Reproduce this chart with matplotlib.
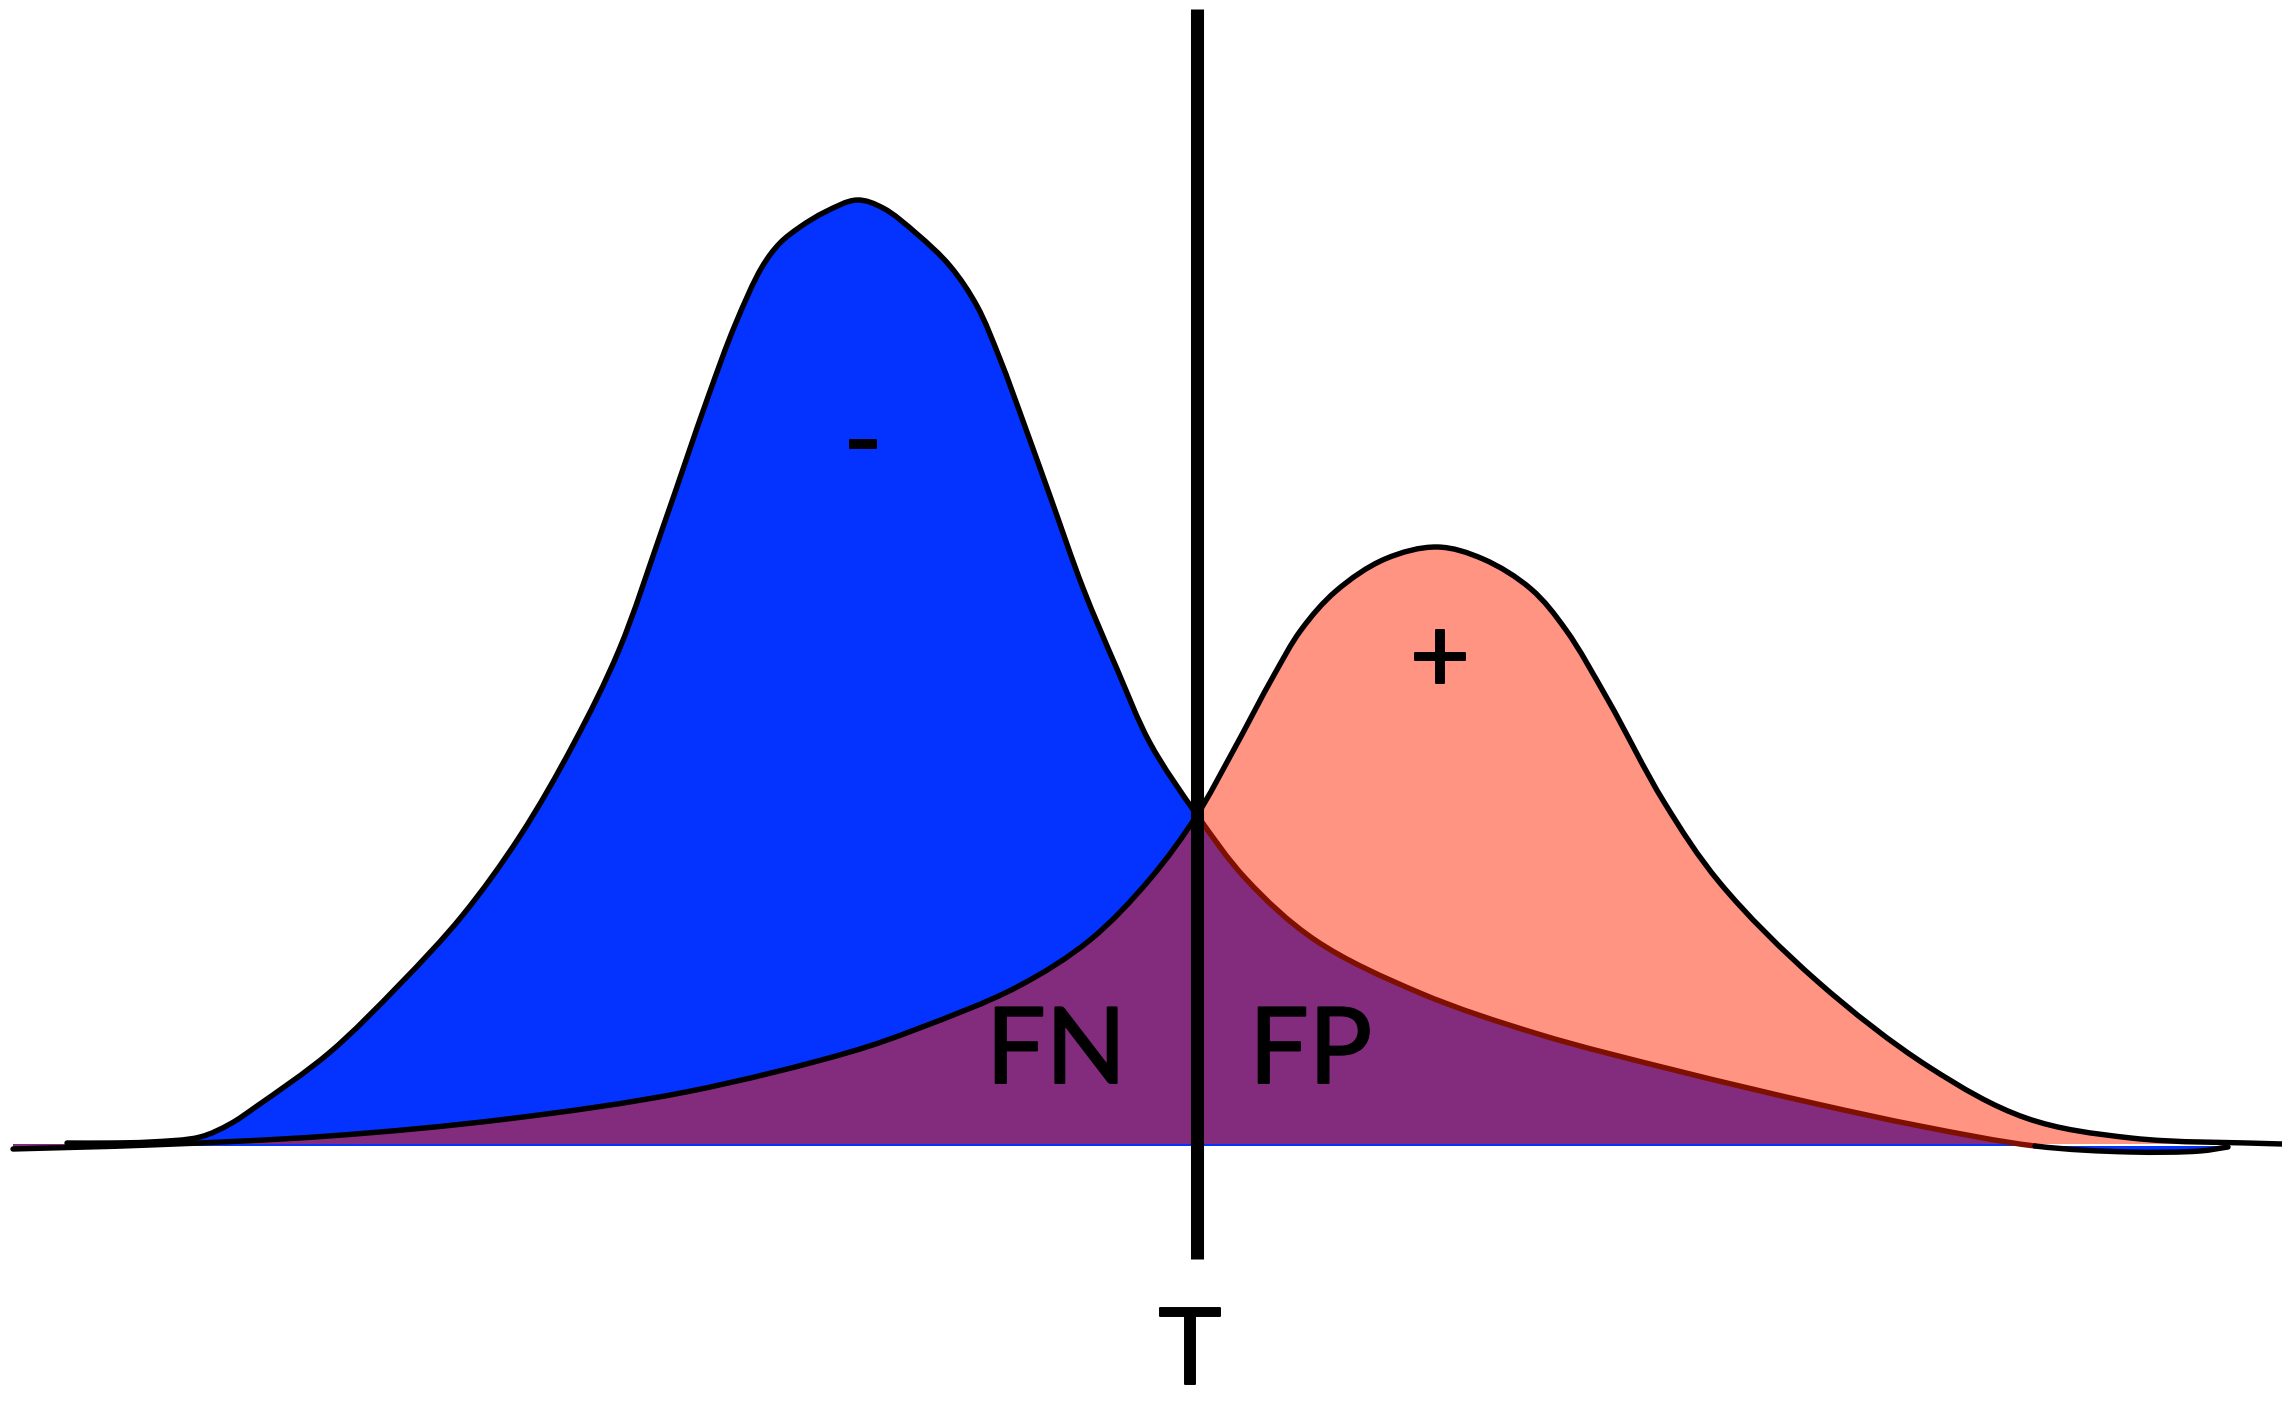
import numpy as np
import matplotlib
matplotlib.use("Agg")
import matplotlib.pyplot as plt
from matplotlib.path import Path
from matplotlib.patches import PathPatch
import matplotlib.patheffects as pe

# ---- data (x position, height above baseline) ----
blue_x = [67, 110, 150, 200, 230, 257, 329, 400, 462, 520, 574, 619, 663, 708, 735,
          762, 780, 800, 825, 857, 883, 917, 950, 977, 1000, 1023, 1050, 1083,
          1117, 1150, 1197, 1246, 1315, 1420, 1538, 1678, 1817, 1920, 2035,
          2130, 2200, 2228]
blue_h = [3, 3, 4, 9, 22, 40, 93, 162, 230, 310, 403, 496, 619, 749, 821,
          879, 903, 919, 934, 946, 938, 912, 880, 840, 787, 725, 650, 558,
          477, 403, 331, 267, 206, 153, 112, 75, 42, 20, 0,
          -6, -5, -1]
red_x = [13, 150, 329, 507, 686, 850, 917, 1017, 1090, 1150, 1197, 1232, 1274,
         1301, 1336, 1385, 1437, 1483, 1531, 1566, 1608, 1664, 1720, 1817, 1929,
         2026, 2131, 2282]
red_h = [-3, 1, 10, 27, 54, 94, 117, 159, 206, 267, 331, 393, 471,
         516, 555, 587, 599, 587, 557, 516, 446, 344, 263, 165, 79,
         28, 8, 2]
threshold = 1197
blue_cross, blue_dip = 30, 38      # indices: crossing point / where tail meets baseline
red_cross = 10

labels = {"minus": "-", "plus": "+", "fn": "FN", "fp": "FP", "t": "T"}

BLUE = "#0433FF"
SALMON = "#FF9482"
PURPLE = "#832C7E"
DARKRED = "#7F1000"

plt.rcParams["font.family"] = ["Lato", "DejaVu Sans"]

fig = plt.figure(figsize=(22.82, 14.02), dpi=100)
ax = fig.add_axes([0, 0, 1, 1])
ax.set_xlim(0, 2282)
ax.set_ylim(-256, 1146)
ax.axis("off")


def bez_segments(xs, ys, alpha=0.5):
    """Centripetal Catmull-Rom through the points, as cubic Bezier segments."""
    p = np.column_stack([xs, ys]).astype(float)
    n = len(p)
    segs = []
    for i in range(n - 1):
        p1, p2 = p[i], p[i + 1]
        p0 = p[i - 1] if i > 0 else 2 * p1 - p2
        p3 = p[i + 2] if i + 2 < n else 2 * p2 - p1
        d1 = max(np.linalg.norm(p1 - p0), 1e-6) ** alpha
        d2 = max(np.linalg.norm(p2 - p1), 1e-6) ** alpha
        d3 = max(np.linalg.norm(p3 - p2), 1e-6) ** alpha
        b1 = (d1**2 * p2 - d2**2 * p0 + (2 * d1**2 + 3 * d1 * d2 + d2**2) * p1) / (3 * d1 * (d1 + d2))
        b2 = (d3**2 * p1 - d2**2 * p3 + (2 * d3**2 + 3 * d3 * d2 + d2**2) * p2) / (3 * d3 * (d3 + d2))
        segs.append((p1, b1, b2, p2))
    return segs


def verts_codes(segs, start=True):
    v = [segs[0][0]]
    c = [Path.MOVETO if start else Path.LINETO]
    for s in segs:
        v += [s[1], s[2], s[3]]
        c += [Path.CURVE4] * 3
    return v, c


def closed_to_base(v, c, base=0.0):
    v = list(v) + [(v[-1][0], base), (v[0][0], base), v[0]]
    c = list(c) + [Path.LINETO, Path.LINETO, Path.CLOSEPOLY]
    return Path(v, c)


bs = bez_segments(blue_x, blue_h)
rs = bez_segments(red_x, red_h)

# fills
v, c = verts_codes(bs)
ax.add_patch(PathPatch(closed_to_base(v, c, 0), fc=BLUE, ec="none", zorder=1))
v, c = verts_codes(rs)
ax.add_patch(PathPatch(closed_to_base(v, c, 2), fc=SALMON, ec="none", zorder=2))
v1, c1 = verts_codes(rs[:red_cross])
v2, c2 = verts_codes(bs[blue_cross:blue_dip], start=False)
ax.add_patch(PathPatch(closed_to_base(v1 + v2, c1 + c2, 2), fc=PURPLE, ec="none", zorder=3))

lw = 3.9
def stroke(segs, color, z):
    v, c = verts_codes(segs)
    ax.add_patch(PathPatch(Path(v, c), fc="none", ec=color, lw=lw, zorder=z,
                           capstyle="round", joinstyle="round"))

stroke(bs[blue_cross:blue_dip], DARKRED, 4)
stroke(bs[blue_dip:], "black", 4)
stroke(rs, "black", 5)
stroke(bs[:blue_cross], "black", 5)

# threshold line
ax.plot([threshold, threshold], [1146 - 1259, 1146 - 9], color="black", lw=9.4,
        solid_capstyle="butt", zorder=6)

fs = 76
eff = [pe.withStroke(linewidth=1.4, foreground="black")]
kw = dict(fontsize=fs, zorder=7, path_effects=eff, color="black")
ax.text(863, 1146 - 446, labels["minus"], ha="center", va="center", **kw)
ax.text(1440, 1146 - 662, labels["plus"], ha="center", va="center", **kw)
ax.text(986, 1146 - 1083, labels["fn"], ha="left", va="baseline", **kw)
ax.text(1249, 1146 - 1083, labels["fp"], ha="left", va="baseline", **kw)
ax.text(1190, 1146 - 1401.5, labels["t"], ha="center", va="bottom", **kw)

fig.savefig("out.png", dpi=100, facecolor="white")
